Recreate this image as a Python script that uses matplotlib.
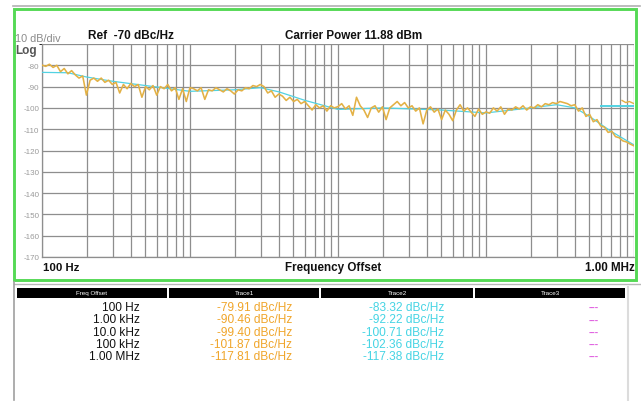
import numpy as np
import matplotlib
matplotlib.use("Agg")
import matplotlib.pyplot as plt
from matplotlib.patches import Rectangle
from matplotlib.lines import Line2D

plt.rcParams['font.family'] = ['Liberation Sans', 'DejaVu Sans']

# ---- measured phase-noise sweep (trace 1, raw) ----
sweep_start_hz = 100.0
sweep_stop_hz = 1.0e6
trace1_dbc = [
    -79.91, -80.5, -79.5, -81, -80, -83, -81.5, -84, -82.5, -84.5,
    -86, -85, -94, -87, -86, -87.5, -86, -88, -87, -89,
    -88, -93, -89, -91, -88.5, -90, -89, -95, -90, -91.5,
    -89.5, -94, -90, -91, -89, -92, -90.5, -96, -91, -97,
    -90.46, -91, -92, -90.5, -96, -91.5, -92, -90.5, -91.5, -92.5,
    -91, -92, -93.5, -91.5, -92, -90.5, -91, -89.5, -90, -89,
    -90, -93, -92, -95, -93.5, -94.5, -96.5, -95, -97, -96,
    -98, -97, -99, -101, -98.5, -100, -99, -101.5, -99, -100,
    -99.40, -98, -100.5, -99, -103.5, -95, -99, -101, -104.5, -100,
    -99, -102, -99.5, -105.5, -100, -98.5, -97, -99, -97.5, -100,
    -99, -101.5, -100, -107.5, -101, -99.5, -102, -100.5, -105.5, -101,
    -103, -106, -101, -98.5, -101.5, -100, -102, -104, -100.5, -103,
    -101.87, -102.5, -100, -101.5, -99.5, -103, -100.5, -101, -99.5, -100.5,
    -99, -101, -99.5, -100, -98.5, -99.5, -98, -98.5, -97.5, -98,
    -97, -97.5, -98, -99, -98.5, -101.5, -100, -104, -103, -106.5,
    -105.5, -108.5, -109, -111.5, -111, -113.5, -114, -115.5, -116, -117,
    -117.81,
]
trace1_freq = np.logspace(np.log10(sweep_start_hz), np.log10(sweep_stop_hz),
                          len(trace1_dbc))

# ---- smoothed trace (trace 2) ----
trace2_freq = [100, 150, 200, 300, 500, 1e3, 2e3, 3e3, 4e3, 6e3,
               1e4, 2e4, 5e4, 1e5, 2e5, 3e5, 4e5, 5e5, 7e5, 1e6]
trace2_dbc = [-83.32, -83.5, -85.5, -87.5, -89.5, -92.22, -91.5, -90.5, -92.5, -96.5,
              -100.71, -100, -101, -102.36, -100, -98.5, -100, -104, -111, -117.38]

# short segments near the right edge
flat2_freq = [6.0e5, 1.0e6]
flat2_dbc = [-99.3, -99.3]
tail1_freq = [8.3e5, 8.8e5, 9.3e5, 1.0e6]
tail1_dbc = [-96.5, -97.5, -97, -98]

# ---- marker table ----
table_offsets = ["100 Hz", "1.00 kHz", "10.0 kHz", "100 kHz", "1.00 MHz"]
table_trace1 = [-79.91, -90.46, -99.40, -101.87, -117.81]
table_trace2 = [-83.32, -92.22, -100.71, -102.36, -117.38]
table_headers = ["Freq Offset", "Trace1", "Trace2", "Trace3"]

y_ticks = list(range(-80, -171, -10))

W, H = 641, 402
fig = plt.figure(figsize=(W / 100, H / 100), dpi=100)
fig.patch.set_facecolor('white')


def fx(px):
    return px / W


def fy(py):
    return 1 - py / H


C1 = '#e3b145'
C2 = '#52d2e2'
C3 = '#e060e0'
GRID = '#8e8e8e'

# graticule
ax_l, ax_r, ax_t, ax_b = 42, 634, 45, 258
ax = fig.add_axes([fx(ax_l), fy(ax_b), fx(ax_r - ax_l), (ax_b - ax_t) / H])
ax.set_xscale('log')
ax.set_xlim(sweep_start_hz, sweep_stop_hz)
ax.set_ylim(-170, -70)
ax.set_yticks(y_ticks)
ax.set_yticklabels([str(t) for t in y_ticks])
ax.tick_params(axis='y', length=0, pad=2, labelsize=5.8, labelcolor='#9a9a9a')
ax.tick_params(axis='x', which='both', length=0, labelbottom=False)
ax.grid(True, which='both', axis='x', color=GRID, lw=0.9)
ax.set_yticks(list(range(-70, -171, -10)), minor=True)
ax.grid(True, which='minor', axis='y', color=GRID, lw=0.9)
ax.grid(True, which='major', axis='y', color=GRID, lw=0.9)
for s in ax.spines.values():
    s.set_color(GRID)
    s.set_linewidth(0.9)
ax.spines['right'].set_visible(False)
ax.spines['top'].set_visible(False)

ax.plot(trace2_freq, trace2_dbc, color=C2, lw=0.9, zorder=3)
ax.plot(flat2_freq, flat2_dbc, color=C2, lw=1.4, zorder=3)
ax.plot(trace1_freq, trace1_dbc, color=C1, lw=1.15, zorder=4)
ax.plot(tail1_freq, tail1_dbc, color=C1, lw=1.0, zorder=4)
ax.set_facecolor('white')

# texts around the graticule
fig.text(fx(15), fy(38.5), "10 dB/div", fontsize=7.8, color='#8a8a8a', va='center', ha='left')
fig.text(fx(15), fy(51), "Log", fontsize=8.5, color='#555555', weight='bold', va='center', ha='left')
fig.text(fx(88), fy(36), "Ref  -70 dBc/Hz", fontsize=8.5, color='#111111', weight='bold', va='center', ha='left')
fig.text(fx(285), fy(36), "Carrier Power 11.88 dBm", fontsize=8.4, color='#111111', weight='bold', va='center', ha='left')
fig.text(fx(43), fy(268), "100 Hz", fontsize=8.2, color='#111111', weight='bold', va='center', ha='left')
fig.text(fx(333), fy(268), "Frequency Offset", fontsize=8.4, color='#111111', weight='bold', va='center', ha='center')
fig.text(fx(635), fy(268), "1.00 MHz", fontsize=8.4, color='#111111', weight='bold', va='center', ha='right')

# frame lines
fig.add_artist(Line2D([fx(13), fx(640)], [fy(7), fy(7)], color='#b0b0b0', lw=1.2))
fig.add_artist(Rectangle((fx(14), fy(281)), fx(622), (281 - 10) / H, fill=False,
                         edgecolor='#55d955', lw=2.1))
fig.add_artist(Line2D([fx(14), fx(640)], [fy(285), fy(285)], color='#b8b8b8', lw=1.0))
fig.add_artist(Line2D([fx(14), fx(14)], [fy(283), fy(401)], color='#a0a0a0', lw=1.2))
fig.add_artist(Line2D([fx(628), fx(628)], [fy(288), fy(401)], color='#dcdcdc', lw=1.5))

# marker table
col_edges = [16, 168, 320, 474, 626]
for i, name in enumerate(table_headers):
    x0, x1 = col_edges[i], col_edges[i + 1]
    fig.add_artist(Rectangle((fx(x0 + 1), fy(299)), fx(x1 - x0 - 2), 10 / H,
                             facecolor='black', edgecolor='none'))
    fig.text(fx((x0 + x1) / 2), fy(294), name, fontsize=4.5, color='white',
             ha='center', va='center')

row_y = [308, 320.5, 333, 345, 357]
for k, y in enumerate(row_y):
    fig.text(fx(140), fy(y), table_offsets[k], fontsize=8.6, color='#111111',
             ha='right', va='center')
    fig.text(fx(292), fy(y), f"{table_trace1[k]:.2f} dBc/Hz", fontsize=8.6,
             color='#f0a52a', ha='right', va='center')
    fig.text(fx(444), fy(y), f"{table_trace2[k]:.2f} dBc/Hz", fontsize=8.6,
             color='#45d4e4', ha='right', va='center')
    fig.text(fx(594), fy(y), "---", fontsize=7.5, color=C3, ha='center',
             va='center', weight='bold')

fig.savefig('out.png', dpi=100)
